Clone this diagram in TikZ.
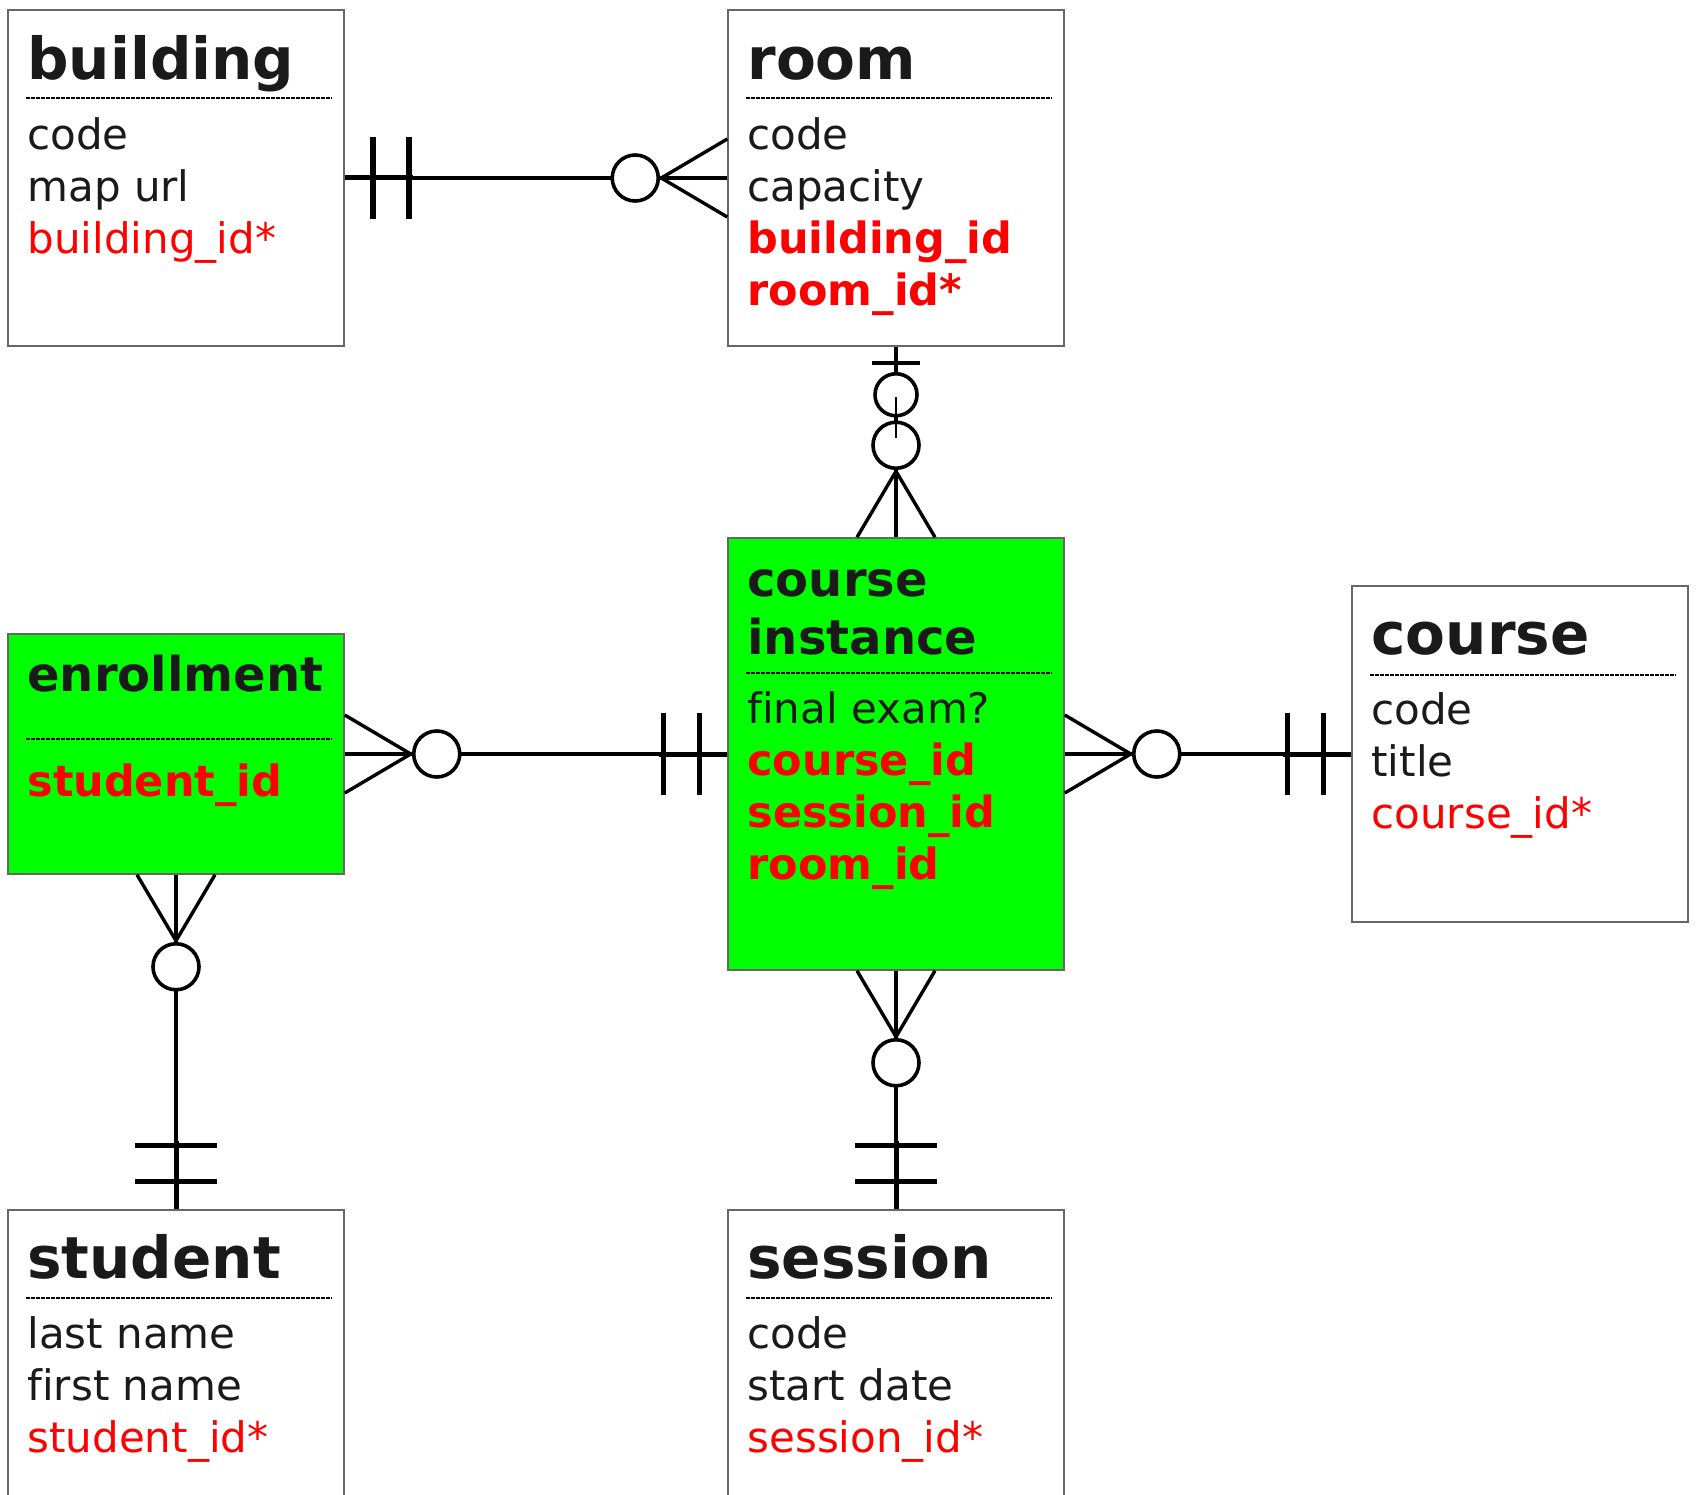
\documentclass[tikz,border=0pt]{standalone}
\usepackage{fontspec}
\setmainfont[Ligatures={TeX,NoCommon}]{DejaVu Sans}
\usetikzlibrary{calc}

\begin{document}
\begin{tikzpicture}[x=1pt,y=-1pt,
    entity/.style={draw=black!60, line width=1.5pt, fill=white, minimum width=336pt, inner sep=0pt},
    assoc/.style={entity, fill=erGreen},
    enttitle/.style={anchor=base west, inner sep=0pt, text=ink, font=\fontsize{58}{70}\selectfont\bfseries},
    smalltitle/.style={enttitle, font=\fontsize{48}{58}\selectfont\bfseries},
    attr/.style={anchor=base west, inner sep=0pt, text=ink, font=\fontsize{42}{50}\selectfont},
    pk/.style={attr, text=erRed},
    fk/.style={attr, text=erRed, font=\fontsize{43}{50}\selectfont\bfseries},
    divider/.style={draw=black, line width=1.7pt, dash pattern=on 3.6pt off 1.4pt},
    conn/.style={draw=black, line width=3.4pt},
    thickconn/.style={draw=black, line width=5pt},
    bar/.style={draw=black, line width=5.5pt},
    ring/.style={draw=black, line width=3.6pt, fill=white},
    onlyone/.pic={
      \draw[thickconn] (0,0) -- (68,0);
      \draw[bar] (28,-41) -- (28,41);
      \draw[bar] (64,-41) -- (64,41);
    },
    zeromany/.pic={
      \draw[conn] (0,-39) -- (66,0) -- (0,39);
      \draw[ring] (92,0) circle (23pt);
    },
    zeroone/.pic={
      \draw[bar, line width=4pt] (16,-24) -- (16,24);
      \draw[ring] (48,0) circle (21pt);
      \draw[line width=2pt] (50,0) -- (91,0);
    }]

  \definecolor{ink}{RGB}{26,26,26}
  \definecolor{erRed}{RGB}{255,0,0}
  \definecolor{erGreen}{RGB}{0,255,0}

  \fill[white] (0,0) rectangle (1696,1495);
  \useasboundingbox (0,0) rectangle (1696,1495);
  \clip (0,0) rectangle (1696,1495);

  % ---- entity boxes ----
  \node[entity, minimum height=336pt] (building) at (176,178) {};
  \node[entity, minimum height=336pt] (room) at (896,178) {};
  \node[assoc, minimum height=240pt] (enrollment) at (176,754) {};
  \node[assoc, minimum height=432pt] (instance) at (896,754) {};
  \node[entity, minimum height=336pt] (course) at (1520,754) {};
  \node[entity, minimum height=336pt] (student) at (176,1378) {};
  \node[entity, minimum height=336pt] (session) at (896,1378) {};

  % ---- connectors ----
  % building -- room
  \draw[conn] (building.east) -- (room.west);
  \pic at (building.east) {onlyone};
  \pic[rotate=180] at (room.west) {zeromany};

  % room -- course instance
  \draw[conn] (room.south) -- (instance.north);
  \pic[rotate=90] at (instance.north) {zeromany};
  \pic[rotate=-90] at (room.south) {zeroone};

  % enrollment -- course instance
  \draw[conn] (enrollment.east) -- (instance.west);
  \pic at (enrollment.east) {zeromany};
  \pic[rotate=180] at (instance.west) {onlyone};

  % course instance -- course
  \draw[conn] (instance.east) -- (course.west);
  \pic at (instance.east) {zeromany};
  \pic[rotate=180] at (course.west) {onlyone};

  % enrollment -- student
  \draw[conn] (enrollment.south) -- (student.north);
  \pic[rotate=-90] at (enrollment.south) {zeromany};
  \pic[rotate=90] at (student.north) {onlyone};

  % course instance -- session
  \draw[conn] (instance.south) -- (session.north);
  \pic[rotate=-90] at (instance.south) {zeromany};
  \pic[rotate=90] at (session.north) {onlyone};

  % ---- building ----
  \node[enttitle] (building-t) at ($(building.north west)+(20,70)$) {building};
  \draw[divider] ($(building.north west)+(19,89)$) -- ++(306,0);
  \foreach \sty/\txt [count=\i] in {attr/code, attr/map url, pk/building\_id*}
    \node[\sty] (building-\i) at ($(building.north west)+(20,88+52*\i)$) {\txt};

  % ---- room ----
  \node[enttitle] (room-t) at ($(room.north west)+(20,70)$) {room};
  \draw[divider] ($(room.north west)+(19,89)$) -- ++(306,0);
  \foreach \sty/\txt [count=\i] in {attr/code, attr/capacity, fk/building\_id, fk/room\_id*}
    \node[\sty] (room-\i) at ($(room.north west)+(20,88+52*\i)$) {\txt};

  % ---- enrollment ----
  \node[smalltitle] (enrollment-t) at ($(enrollment.north west)+(20,58)$) {enrollment};
  \draw[divider] ($(enrollment.north west)+(19,106)$) -- ++(306,0);
  \node[fk] (enrollment-1) at ($(enrollment.north west)+(20,163)$) {student\_id};

  % ---- course instance ----
  \node[smalltitle] (instance-t1) at ($(instance.north west)+(20,59)$) {course};
  \node[smalltitle] (instance-t2) at ($(instance.north west)+(20,117)$) {instance};
  \draw[divider] ($(instance.north west)+(19,136)$) -- ++(306,0);
  \foreach \sty/\txt [count=\i] in {attr/final exam?, fk/course\_id, fk/session\_id, fk/room\_id}
    \node[\sty] (instance-\i) at ($(instance.north west)+(20,134+52*\i)$) {\txt};

  % ---- course ----
  \node[enttitle] (course-t) at ($(course.north west)+(20,69)$) {course};
  \draw[divider] ($(course.north west)+(19,90)$) -- ++(306,0);
  \foreach \sty/\txt [count=\i] in {attr/code, attr/title, pk/course\_id*}
    \node[\sty] (course-\i) at ($(course.north west)+(20,87+52*\i)$) {\txt};

  % ---- student ----
  \node[enttitle] (student-t) at ($(student.north west)+(20,69)$) {student};
  \draw[divider] ($(student.north west)+(19,89)$) -- ++(306,0);
  \foreach \sty/\txt [count=\i] in {attr/last name, attr/first name, pk/student\_id*}
    \node[\sty] (student-\i) at ($(student.north west)+(20,87+52*\i)$) {\txt};

  % ---- session ----
  \node[enttitle] (session-t) at ($(session.north west)+(20,69)$) {session};
  \draw[divider] ($(session.north west)+(19,89)$) -- ++(306,0);
  \foreach \sty/\txt [count=\i] in {attr/code, attr/start date, pk/session\_id*}
    \node[\sty] (session-\i) at ($(session.north west)+(20,87+52*\i)$) {\txt};

\end{tikzpicture}
\end{document}
